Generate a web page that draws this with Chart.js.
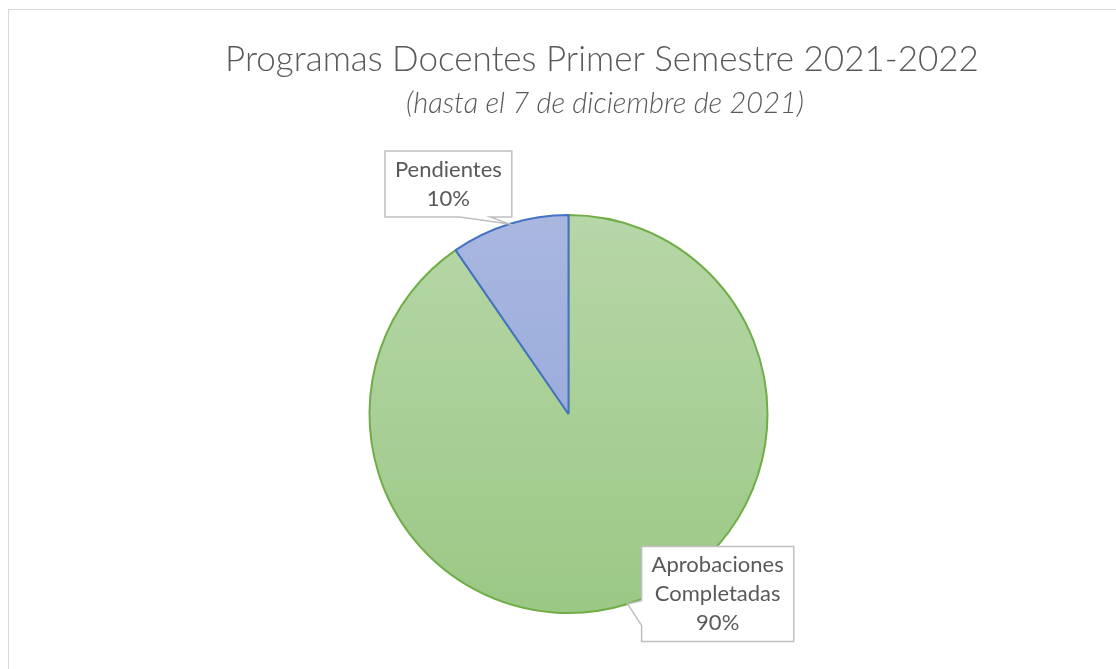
<!DOCTYPE html>
<html><head><meta charset="utf-8">
<script src="https://cdn.jsdelivr.net/npm/chart.js@4.4.1/dist/chart.umd.min.js"></script>
<style>html,body{margin:0;padding:0;background:#fff;overflow:hidden;} #wrap{width:1116px;height:669px;position:relative;}</style>
</head><body><div id="wrap"><canvas id="c" width="1116" height="669"></canvas></div>
<script>
const categories = ['Aprobaciones Completadas', 'Pendientes'];
const values = [90.4, 9.6];
const titleText = 'Programas Docentes Primer Semestre 2021-2022';
const subtitleText = '(hasta el 7 de diciembre de 2021)';

const FONT = 'Lato';
const gradStops = [
  ['#b6d7a8', '#9bc885'],
  ['#a9b7e0', '#8ea3d9']
];
const borderCols = ['#70ad47', '#4472c4'];

function fillGrad(ctx) {
  const chart = ctx.chart;
  const a = chart.chartArea;
  if (!a) return gradStops[ctx.dataIndex][1];
  const g = chart.ctx.createLinearGradient(0, a.top, 0, a.bottom);
  g.addColorStop(0, gradStops[ctx.dataIndex][0]);
  g.addColorStop(1, gradStops[ctx.dataIndex][1]);
  return g;
}

const framePlugin = {
  id: 'frame',
  beforeDraw(chart) {
    const c = chart.ctx;
    c.save();
    c.fillStyle = '#ffffff';
    c.fillRect(0, 0, chart.width, chart.height);
    c.strokeStyle = '#d9d9d9';
    c.lineWidth = 1;
    c.strokeRect(8.5, 9.5, chart.width + 20, chart.height + 20);
    c.fillStyle = '#595959';
    c.textAlign = 'center';
    c.textBaseline = 'alphabetic';
    c.font = '300 35px ' + FONT;
    c.fillText(titleText, 602, 71);
    c.font = 'italic 300 29px ' + FONT;
    c.fillText(subtitleText, 605, 113);
    c.restore();
  }
};

// callout layout: box offset relative to slice-edge tip
const calloutLayout = [
  { side: 'left', dx: 14, dyCenter: -10, padX: 10, baseA: 0.57, baseB: 0.83 },
  { side: 'bottom', dxCenter: -61, dy: -7, padX: 10, baseA: 0.59, baseB: 0.83 }
];

const calloutPlugin = {
  id: 'callouts',
  afterDatasetsDraw(chart) {
    const c = chart.ctx;
    const meta = chart.getDatasetMeta(0);
    const total = values.reduce((s, v) => s + v, 0);
    c.save();
    c.font = '22px ' + FONT;
    meta.data.forEach((arc, i) => {
      const p = arc.getProps(['x', 'y', 'startAngle', 'endAngle', 'outerRadius'], true);
      const mid = (p.startAngle + p.endAngle) / 2;
      const tx = p.x + Math.cos(mid) * p.outerRadius;
      const ty = p.y + Math.sin(mid) * p.outerRadius;
      const lines = categories[i].split(' ').concat([Math.round(values[i] / total * 100) + '%']);
      const lh = 29;
      const tw = Math.max(...lines.map(l => c.measureText(l).width));
      const L = calloutLayout[i];
      const w = tw + 2 * L.padX;
      const h = lines.length * lh + 8;
      let x0, y0;
      if (L.side === 'left') {
        x0 = tx + L.dx;
        y0 = ty + L.dyCenter - h / 2;
      } else {
        x0 = tx + L.dxCenter - w / 2;
        y0 = ty + L.dy - h;
      }
      const x1 = x0 + w, y1 = y0 + h;
      c.beginPath();
      if (L.side === 'left') {
        c.moveTo(x0, y0); c.lineTo(x1, y0); c.lineTo(x1, y1); c.lineTo(x0, y1);
        c.lineTo(x0, y0 + h * L.baseB); c.lineTo(tx, ty); c.lineTo(x0, y0 + h * L.baseA);
      } else {
        c.moveTo(x0, y0); c.lineTo(x1, y0); c.lineTo(x1, y1);
        c.lineTo(x0 + w * L.baseB, y1); c.lineTo(tx, ty); c.lineTo(x0 + w * L.baseA, y1);
        c.lineTo(x0, y1);
      }
      c.closePath();
      c.fillStyle = '#ffffff';
      c.fill();
      c.strokeStyle = '#bfbfbf';
      c.lineWidth = 1.5;
      c.stroke();
      c.fillStyle = '#595959';
      c.textAlign = 'center';
      c.textBaseline = 'middle';
      lines.forEach((l, k) => {
        c.fillText(l, (x0 + x1) / 2, y0 + 4 + lh * (k + 0.5));
      });
    });
    c.restore();
  }
};

new Chart(document.getElementById('c'), {
  type: 'pie',
  data: {
    labels: categories,
    datasets: [{
      data: values,
      backgroundColor: fillGrad,
      borderColor: borderCols,
      borderWidth: 2,
      borderAlign: 'center'
    }]
  },
  options: {
    responsive: false,
    animation: false,
    layout: { padding: { top: 214, bottom: 55, left: 368, right: 347 } },
    plugins: { legend: { display: false }, tooltip: { enabled: false }, title: { display: false } }
  },
  plugins: [framePlugin, calloutPlugin]
});
</script>
</body></html>
